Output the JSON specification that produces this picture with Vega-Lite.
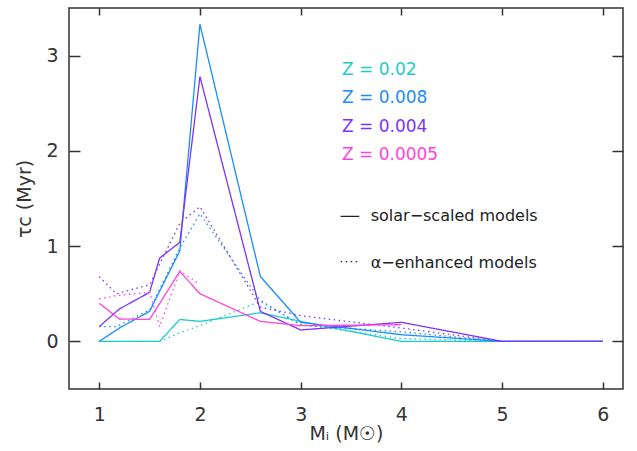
{
  "$schema": "https://vega.github.io/schema/vega-lite/v6.json",
  "width": 554,
  "height": 381,
  "autosize": "none",
  "padding": {"left": 69, "top": 8, "right": 14, "bottom": 62},
  "background": "white",
  "config": {
    "view": {"stroke": "#333333", "strokeWidth": 1.5},
    "font": "DejaVu Sans",
    "axis": {
      "domain": false,
      "grid": false,
      "tickColor": "#333333",
      "tickWidth": 1.5,
      "labelColor": "#333333",
      "labelFont": "DejaVu Sans",
      "labelFontSize": 19,
      "titleFont": "DejaVu Sans",
      "titleFontSize": 19,
      "titleFontWeight": "normal",
      "titleColor": "#333333"
    }
  },
  "datasets": {
    "curves": [
      {"series": "s002", "Z": "0.02", "model": "solar", "mass": 1, "tau": 0},
      {"series": "s002", "Z": "0.02", "model": "solar", "mass": 1.2, "tau": 0},
      {"series": "s002", "Z": "0.02", "model": "solar", "mass": 1.5, "tau": 0},
      {"series": "s002", "Z": "0.02", "model": "solar", "mass": 1.6, "tau": 0},
      {"series": "s002", "Z": "0.02", "model": "solar", "mass": 1.8, "tau": 0.23},
      {"series": "s002", "Z": "0.02", "model": "solar", "mass": 2, "tau": 0.21},
      {"series": "s002", "Z": "0.02", "model": "solar", "mass": 2.6, "tau": 0.3},
      {"series": "s002", "Z": "0.02", "model": "solar", "mass": 3, "tau": 0.21},
      {"series": "s002", "Z": "0.02", "model": "solar", "mass": 4, "tau": 0},
      {"series": "s002", "Z": "0.02", "model": "solar", "mass": 5, "tau": 0},
      {"series": "s002", "Z": "0.02", "model": "solar", "mass": 6, "tau": 0},
      {"series": "a002", "Z": "0.02", "model": "alpha", "mass": 1, "tau": 0},
      {"series": "a002", "Z": "0.02", "model": "alpha", "mass": 1.2, "tau": 0},
      {"series": "a002", "Z": "0.02", "model": "alpha", "mass": 1.5, "tau": 0},
      {"series": "a002", "Z": "0.02", "model": "alpha", "mass": 1.6, "tau": 0},
      {"series": "a002", "Z": "0.02", "model": "alpha", "mass": 1.8, "tau": 0.09},
      {"series": "a002", "Z": "0.02", "model": "alpha", "mass": 2, "tau": 0.165},
      {"series": "a002", "Z": "0.02", "model": "alpha", "mass": 2.6, "tau": 0.42},
      {"series": "a002", "Z": "0.02", "model": "alpha", "mass": 3, "tau": 0.18},
      {"series": "a002", "Z": "0.02", "model": "alpha", "mass": 4, "tau": 0.03},
      {"series": "a002", "Z": "0.02", "model": "alpha", "mass": 5, "tau": 0},
      {"series": "a002", "Z": "0.02", "model": "alpha", "mass": 6, "tau": 0},
      {"series": "s0008", "Z": "0.008", "model": "solar", "mass": 1, "tau": 0},
      {"series": "s0008", "Z": "0.008", "model": "solar", "mass": 1.2, "tau": 0.14},
      {"series": "s0008", "Z": "0.008", "model": "solar", "mass": 1.5, "tau": 0.315},
      {"series": "s0008", "Z": "0.008", "model": "solar", "mass": 1.8, "tau": 0.95},
      {"series": "s0008", "Z": "0.008", "model": "solar", "mass": 2, "tau": 3.33},
      {"series": "s0008", "Z": "0.008", "model": "solar", "mass": 2.6, "tau": 0.68},
      {"series": "s0008", "Z": "0.008", "model": "solar", "mass": 3, "tau": 0.2},
      {"series": "s0008", "Z": "0.008", "model": "solar", "mass": 4, "tau": 0.07},
      {"series": "s0008", "Z": "0.008", "model": "solar", "mass": 5, "tau": 0},
      {"series": "s0008", "Z": "0.008", "model": "solar", "mass": 6, "tau": 0},
      {"series": "a0008", "Z": "0.008", "model": "alpha", "mass": 1, "tau": 0.155},
      {"series": "a0008", "Z": "0.008", "model": "alpha", "mass": 1.17, "tau": 0.155},
      {"series": "a0008", "Z": "0.008", "model": "alpha", "mass": 1.5, "tau": 0.33},
      {"series": "a0008", "Z": "0.008", "model": "alpha", "mass": 1.8, "tau": 0.98},
      {"series": "a0008", "Z": "0.008", "model": "alpha", "mass": 2, "tau": 1.34},
      {"series": "a0008", "Z": "0.008", "model": "alpha", "mass": 2.6, "tau": 0.43},
      {"series": "a0008", "Z": "0.008", "model": "alpha", "mass": 3, "tau": 0.17},
      {"series": "a0008", "Z": "0.008", "model": "alpha", "mass": 4, "tau": 0.1},
      {"series": "a0008", "Z": "0.008", "model": "alpha", "mass": 5, "tau": 0},
      {"series": "a0008", "Z": "0.008", "model": "alpha", "mass": 6, "tau": 0},
      {"series": "s0004", "Z": "0.004", "model": "solar", "mass": 1, "tau": 0.155},
      {"series": "s0004", "Z": "0.004", "model": "solar", "mass": 1.2, "tau": 0.34},
      {"series": "s0004", "Z": "0.004", "model": "solar", "mass": 1.5, "tau": 0.515},
      {"series": "s0004", "Z": "0.004", "model": "solar", "mass": 1.6, "tau": 0.875},
      {"series": "s0004", "Z": "0.004", "model": "solar", "mass": 1.8, "tau": 1.04},
      {"series": "s0004", "Z": "0.004", "model": "solar", "mass": 2, "tau": 2.78},
      {"series": "s0004", "Z": "0.004", "model": "solar", "mass": 2.6, "tau": 0.315},
      {"series": "s0004", "Z": "0.004", "model": "solar", "mass": 3, "tau": 0.12},
      {"series": "s0004", "Z": "0.004", "model": "solar", "mass": 4, "tau": 0.2},
      {"series": "s0004", "Z": "0.004", "model": "solar", "mass": 5, "tau": 0},
      {"series": "s0004", "Z": "0.004", "model": "solar", "mass": 6, "tau": 0},
      {"series": "a0004", "Z": "0.004", "model": "alpha", "mass": 1, "tau": 0.68},
      {"series": "a0004", "Z": "0.004", "model": "alpha", "mass": 1.17, "tau": 0.5},
      {"series": "a0004", "Z": "0.004", "model": "alpha", "mass": 1.5, "tau": 0.595},
      {"series": "a0004", "Z": "0.004", "model": "alpha", "mass": 1.8, "tau": 1.24},
      {"series": "a0004", "Z": "0.004", "model": "alpha", "mass": 2, "tau": 1.415},
      {"series": "a0004", "Z": "0.004", "model": "alpha", "mass": 2.6, "tau": 0.36},
      {"series": "a0004", "Z": "0.004", "model": "alpha", "mass": 3, "tau": 0.27},
      {"series": "a0004", "Z": "0.004", "model": "alpha", "mass": 4, "tau": 0.14},
      {"series": "a0004", "Z": "0.004", "model": "alpha", "mass": 5, "tau": 0},
      {"series": "a0004", "Z": "0.004", "model": "alpha", "mass": 6, "tau": 0},
      {"series": "s00005", "Z": "0.0005", "model": "solar", "mass": 1, "tau": 0.4},
      {"series": "s00005", "Z": "0.0005", "model": "solar", "mass": 1.2, "tau": 0.235},
      {"series": "s00005", "Z": "0.0005", "model": "solar", "mass": 1.5, "tau": 0.23},
      {"series": "s00005", "Z": "0.0005", "model": "solar", "mass": 1.8, "tau": 0.735},
      {"series": "s00005", "Z": "0.0005", "model": "solar", "mass": 2, "tau": 0.5},
      {"series": "s00005", "Z": "0.0005", "model": "solar", "mass": 2.6, "tau": 0.21},
      {"series": "s00005", "Z": "0.0005", "model": "solar", "mass": 3, "tau": 0.165},
      {"series": "s00005", "Z": "0.0005", "model": "solar", "mass": 4, "tau": 0.175},
      {"series": "a00005", "Z": "0.0005", "model": "alpha", "mass": 1, "tau": 0.445},
      {"series": "a00005", "Z": "0.0005", "model": "alpha", "mass": 1.17, "tau": 0.48},
      {"series": "a00005", "Z": "0.0005", "model": "alpha", "mass": 1.5, "tau": 0.515},
      {"series": "a00005", "Z": "0.0005", "model": "alpha", "mass": 1.6, "tau": 0.155},
      {"series": "a00005", "Z": "0.0005", "model": "alpha", "mass": 1.8, "tau": 0.74},
      {"series": "a00005", "Z": "0.0005", "model": "alpha", "mass": 2, "tau": 0.6}
    ],
    "zlabels": [
      {"Z": "0.02", "label": "Z = 0.02", "mass": 3.41, "tau": 2.854},
      {"Z": "0.008", "label": "Z = 0.008", "mass": 3.41, "tau": 2.553},
      {"Z": "0.004", "label": "Z = 0.004", "mass": 3.41, "tau": 2.252},
      {"Z": "0.0005", "label": "Z = 0.0005", "mass": 3.41, "tau": 1.958}
    ],
    "keytext": [
      {"label": "solar−scaled models", "mass": 3.695, "tau": 1.313},
      {"label": "α−enhanced models", "mass": 3.695, "tau": 0.824}
    ],
    "keylines": [
      {"model": "solar", "mass": 3.397, "tau": 1.313},
      {"model": "solar", "mass": 3.582, "tau": 1.313},
      {"model": "alpha", "mass": 3.397, "tau": 0.837},
      {"model": "alpha", "mass": 3.582, "tau": 0.837}
    ]
  },
  "layer": [
    {
      "data": {"name": "curves"},
      "mark": {"type": "line", "strokeWidth": 1.3},
      "encoding": {
        "x": {
          "field": "mass", "type": "quantitative",
          "scale": {"domain": [0.7, 6.2], "nice": false, "zero": false},
          "axis": {"orient": "bottom", "values": [1, 2, 3, 4, 5, 6], "tickSize": -7, "labelPadding": 23, "title": "Mᵢ (M☉)", "titlePadding": 0}
        },
        "y": {
          "field": "tau", "type": "quantitative",
          "scale": {"domain": [-0.5, 3.5], "nice": false, "zero": false},
          "axis": {"orient": "left", "values": [0, 1, 2, 3], "tickSize": -11, "labelPadding": 22, "title": "τc (Myr)", "titlePadding": 11}
        },
        "color": {
          "field": "Z", "type": "nominal",
          "scale": {"domain": ["0.02", "0.008", "0.004", "0.0005"], "range": ["#1ACCCC", "#1A8CFF", "#7A33FF", "#FF44DD"]},
          "legend": null
        },
        "strokeDash": {
          "field": "model", "type": "nominal",
          "scale": {"domain": ["solar", "alpha"], "range": [[1, 0], [1.5, 3.5]]},
          "legend": null
        },
        "detail": {"field": "series"}
      }
    },
    {
      "data": {"name": "curves"},
      "mark": {"type": "point", "opacity": 0},
      "encoding": {
        "x": {
          "field": "mass", "type": "quantitative",
          "axis": {"orient": "top", "values": [1, 2, 3, 4, 5, 6], "tickSize": -7, "labels": false, "title": null}
        },
        "y": {
          "field": "tau", "type": "quantitative",
          "axis": {"orient": "right", "values": [0, 1, 2, 3], "tickSize": -11, "labels": false, "title": null}
        }
      }
    },
    {
      "data": {"name": "zlabels"},
      "mark": {"type": "text", "align": "left", "baseline": "middle", "fontSize": 17, "font": "DejaVu Sans"},
      "encoding": {
        "x": {"field": "mass", "type": "quantitative", "axis": null},
        "y": {"field": "tau", "type": "quantitative", "axis": null},
        "text": {"field": "label"},
        "color": {"field": "Z", "type": "nominal", "legend": null}
      }
    },
    {
      "data": {"name": "keytext"},
      "mark": {"type": "text", "align": "left", "baseline": "middle", "fontSize": 16, "font": "DejaVu Sans", "color": "#222222"},
      "encoding": {
        "x": {"field": "mass", "type": "quantitative", "axis": null},
        "y": {"field": "tau", "type": "quantitative", "axis": null},
        "text": {"field": "label"}
      }
    },
    {
      "data": {"name": "keylines"},
      "mark": {"type": "line", "strokeWidth": 1.3, "color": "#222222"},
      "encoding": {
        "x": {"field": "mass", "type": "quantitative", "axis": null},
        "y": {"field": "tau", "type": "quantitative", "axis": null},
        "strokeDash": {"field": "model", "type": "nominal", "legend": null},
        "detail": {"field": "model"}
      }
    }
  ],
  "resolve": {"axis": {"x": "independent", "y": "independent"}}
}
